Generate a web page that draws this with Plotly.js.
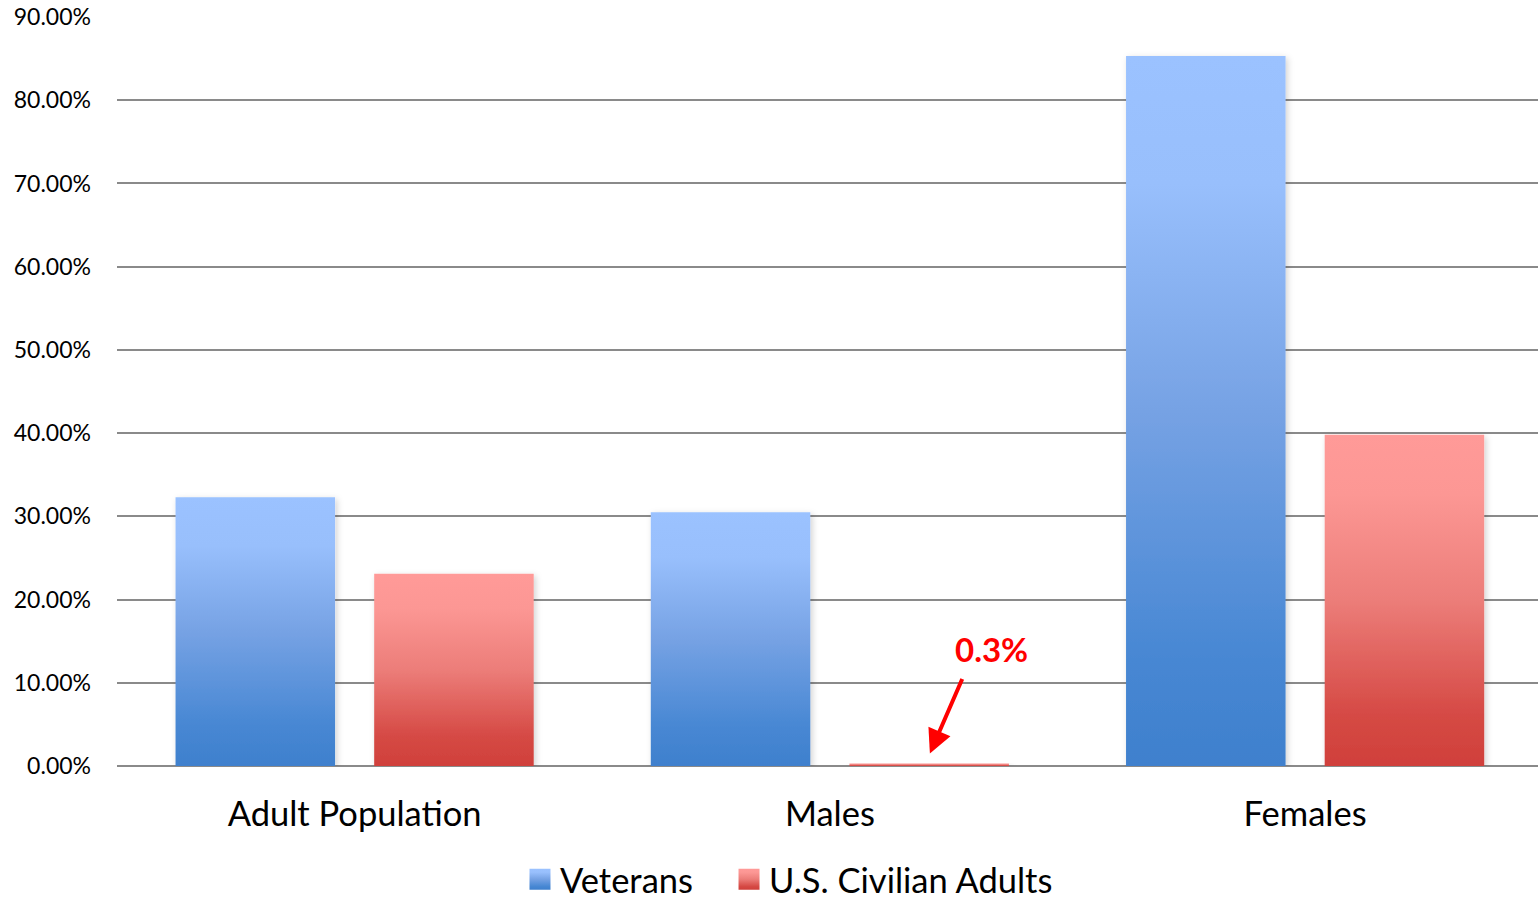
<!DOCTYPE html>
<html>
<head>
<meta charset="utf-8">
<script src="https://cdn.plot.ly/plotly-3.0.1.min.js"></script>
<style>
html,body{margin:0;padding:0;background:#fff;}
#chart{width:1538px;height:899px;}
</style>
</head>
<body>
<div id="chart"></div>
<script>
const categories = ["Adult Population", "Males", "Females"];
const veterans = [32.3, 30.5, 85.3];
const civilians = [23.1, 0.3, 39.8];
const seriesNames = ["Veterans", "U.S. Civilian Adults"];
const yTicks = [0, 10, 20, 30, 40, 50, 60, 70, 80, 90];
const yTickLabels = ["0.00%", "10.00%", "20.00%", "30.00%", "40.00%", "50.00%", "60.00%", "70.00%", "80.00%", "90.00%"];
const calloutText = "0.3%";

const FONT = "Lato, 'Open Sans', sans-serif";

const traces = [
  {type: "bar", name: seriesNames[0], x: categories, y: veterans, legend: "legend",
   marker: {color: "#6a9be0"}, hoverinfo: "skip"},
  {type: "bar", name: seriesNames[1], x: categories, y: civilians, legend: "legend2",
   marker: {color: "#e86c68"}, hoverinfo: "skip"}
];

const legendBase = {orientation: "h", xanchor: "left", yref: "container", y: 0.022, yanchor: "middle",
  font: {size: 34.5, family: FONT}, itemclick: false, itemdoubleclick: false, bgcolor: "rgba(0,0,0,0)"};

const layout = {
  width: 1538, height: 899,
  margin: {l: 117, r: 0, t: 17, b: 133, autoexpand: false},
  paper_bgcolor: "#fff", plot_bgcolor: "#fff",
  barmode: "group", bargap: 0.164, bargroupgap: 0.197,
  font: {family: FONT, color: "#000"},
  showlegend: true,
  legend: Object.assign({}, legendBase, {x: 0.2836}),
  legend2: Object.assign({}, legendBase, {x: 0.4307}),
  xaxis: {type: "category", range: [-0.5, 2.49], showgrid: false, zeroline: false, showline: false, automargin: false,
          ticks: "", tickfont: {size: 34.5, family: FONT}, ticklabelstandoff: 24, fixedrange: true},
  yaxis: {range: [0, 90], tickmode: "array", tickvals: yTicks, ticktext: yTickLabels,
          showgrid: true, gridcolor: "#8a8a8a", gridwidth: 2, automargin: false,
          zeroline: true, zerolinecolor: "#8a8a8a", zerolinewidth: 2,
          showline: false, ticks: "", tickfont: {size: 23, family: FONT},
          ticklabelstandoff: 25, fixedrange: true},
  annotations: [
    {x: categories[1], y: civilians[1], xref: "x", yref: "y", xshift: 100, yshift: 10,
     text: "", showarrow: true, arrowcolor: "#ff0000", arrowwidth: 4, arrowhead: 2,
     arrowsize: 1.2, standoff: 0, ax: 33, ay: -76},
    {x: categories[1], y: 14, xref: "x", yref: "y", xshift: 162,
     text: "<b>" + calloutText + "</b>", showarrow: false,
     font: {size: 33, color: "#ff0000", family: FONT}, yanchor: "middle"}
  ]
};

const grads = [
  {id: "gBlue", stops: [[0, "#9BC2FF"], [0.18, "#98BFFC"], [0.5, "#76A2E4"], [0.85, "#4787D3"], [1, "#3F80CD"]]},
  {id: "gRed", stops: [[0, "#FF9A98"], [0.18, "#FC9794"], [0.5, "#EC7D79"], [0.85, "#D54944"], [1, "#D0403B"]]}
];

function traceIndexOf(el, fallback) {
  const d = el.__data__;
  if (d && d[0] && d[0].trace && typeof d[0].trace.index === "number") return d[0].trace.index;
  return fallback;
}

function applyStyle(gd) {
  const svg = gd.querySelector("svg.main-svg");
  if (!svg) return;
  const NS = "http://www.w3.org/2000/svg";
  let defs = svg.querySelector("defs#customdefs");
  if (!defs) {
    defs = document.createElementNS(NS, "defs");
    defs.setAttribute("id", "customdefs");
    grads.forEach(g => {
      const lg = document.createElementNS(NS, "linearGradient");
      lg.setAttribute("id", g.id);
      lg.setAttribute("x1", "0"); lg.setAttribute("y1", "0");
      lg.setAttribute("x2", "0"); lg.setAttribute("y2", "1");
      g.stops.forEach(s => {
        const st = document.createElementNS(NS, "stop");
        st.setAttribute("offset", s[0]);
        st.setAttribute("stop-color", s[1]);
        lg.appendChild(st);
      });
      defs.appendChild(lg);
    });
    const f = document.createElementNS(NS, "filter");
    f.setAttribute("id", "barShadow");
    f.setAttribute("x", "-10%"); f.setAttribute("y", "-10%");
    f.setAttribute("width", "130%"); f.setAttribute("height", "130%");
    const ds = document.createElementNS(NS, "feDropShadow");
    ds.setAttribute("dx", "2"); ds.setAttribute("dy", "2");
    ds.setAttribute("stdDeviation", "3");
    ds.setAttribute("flood-color", "#000");
    ds.setAttribute("flood-opacity", "0.18");
    f.appendChild(ds);
    defs.appendChild(f);
    svg.insertBefore(defs, svg.firstChild);
  }
  gd.querySelectorAll(".barlayer .trace").forEach((t, i) => {
    const idx = traceIndexOf(t, i) % 2;
    t.querySelectorAll("path").forEach(p => {
      p.style.fill = "url(#" + grads[idx].id + ")";
      p.style.fillOpacity = 1;
      p.setAttribute("filter", "url(#barShadow)");
    });
  });
  gd.querySelectorAll(".infolayer .traces").forEach((t, i) => {
    const idx = traceIndexOf(t, i) % 2;
    t.querySelectorAll(".legendpoints path").forEach(p => {
      p.setAttribute("d", "M10.5,10.5H-10.5V-10.5H10.5Z");
      p.style.fill = "url(#" + grads[idx].id + ")";
      p.style.stroke = "none";
    });
  });
}

const gd = document.getElementById("chart");
Plotly.newPlot(gd, traces, layout, {displayModeBar: false, staticPlot: true}).then(() => {
  applyStyle(gd);
  setTimeout(() => applyStyle(gd), 50);
  gd.on("plotly_afterplot", () => applyStyle(gd));
});
</script>
</body>
</html>
